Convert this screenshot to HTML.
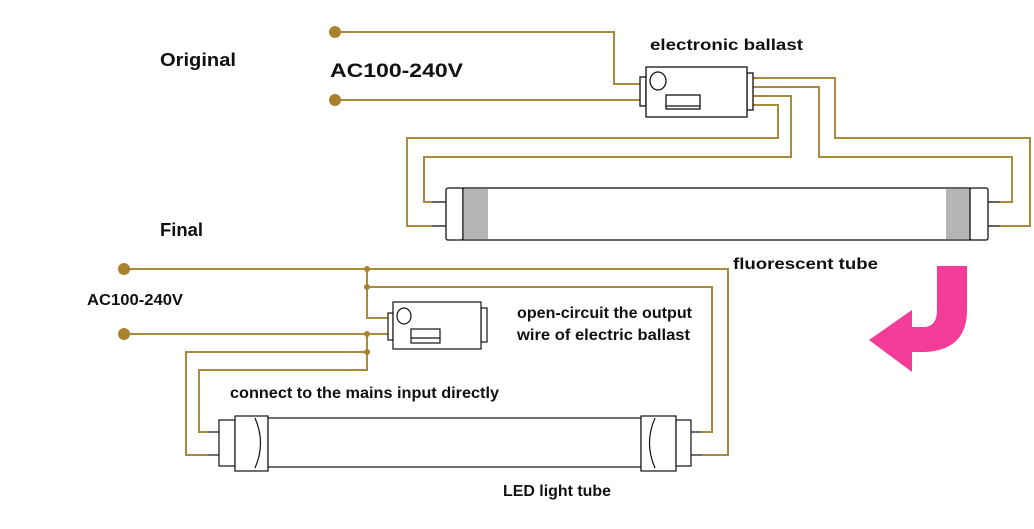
<!DOCTYPE html>
<html><head><meta charset="utf-8"><style>
html,body{margin:0;padding:0;background:#fff;}
svg{display:block;}
text{font-family:"Liberation Sans",sans-serif;font-weight:bold;fill:#111;}
</style></head><body>
<svg width="1034" height="529" viewBox="0 0 1034 529" xmlns="http://www.w3.org/2000/svg">
<g fill="none" stroke="#a88a3c" stroke-width="2">
<polyline points="335,32 614,32 614,84 642,84"/>
<polyline points="335,100 642,100"/>
<polyline points="753,78 835,78 835,138 1030,138 1030,226 1000,226"/>
<polyline points="753,87 819,87 819,157 1012,157 1012,202 1000,202"/>
<polyline points="753,96 791,96 791,157 424,157 424,202 432,202"/>
<polyline points="753,105 778,105 778,138 407,138 407,226 432,226"/>
<polyline points="124,269 728,269 728,455 702,455"/>
<polyline points="367,269 367,318 388,318"/>
<polyline points="367,287 712,287 712,432 702,432"/>
<polyline points="124,334 388,334"/>
<polyline points="367,334 367,370 199,370 199,432 208,432"/>
<polyline points="367,352 186,352 186,455 208,455"/>
</g>
<g fill="#a8822e">
<circle cx="335" cy="32" r="6"/><circle cx="335" cy="100" r="6"/>
<circle cx="124" cy="269" r="6"/><circle cx="124" cy="334" r="6"/>
<circle cx="367" cy="269" r="3"/><circle cx="367" cy="287" r="3"/>
<circle cx="367" cy="334" r="3"/><circle cx="367" cy="352" r="3"/>
</g>
<g stroke="#111" stroke-width="1.3" fill="#fff">
<rect x="640" y="77" width="6" height="29"/>
<rect x="747" y="73" width="6" height="37"/>
<rect x="646" y="67" width="101" height="50"/>
<ellipse cx="658" cy="81" rx="8" ry="9"/>
<rect x="666" y="95" width="34" height="14"/>
<line x1="666" y1="106" x2="700" y2="106"/>
<line x1="432" y1="202" x2="446" y2="202"/><line x1="432" y1="226" x2="446" y2="226"/>
<line x1="988" y1="202" x2="1000" y2="202"/><line x1="988" y1="226" x2="1000" y2="226"/>
<rect x="446" y="188" width="17" height="52" rx="2"/>
<rect x="463" y="188" width="507" height="52"/>
<rect x="970" y="188" width="18" height="52" rx="2"/>
</g>
<rect x="464" y="189" width="24" height="50" fill="#b5b5b5"/>
<rect x="946" y="189" width="23" height="50" fill="#b5b5b5"/>
<g stroke="#111" stroke-width="1.2" fill="#fff">
<rect x="388" y="313" width="5" height="27"/>
<rect x="481" y="308" width="6" height="34"/>
<rect x="393" y="302" width="88" height="47"/>
<ellipse cx="404" cy="316" rx="7" ry="8"/>
<rect x="411" y="329" width="29" height="14"/>
<line x1="411" y1="338" x2="440" y2="338"/>
<line x1="208" y1="432" x2="219" y2="432"/><line x1="208" y1="455" x2="219" y2="455"/>
<line x1="691" y1="432" x2="702" y2="432"/><line x1="691" y1="455" x2="702" y2="455"/>
<rect x="219" y="420" width="16" height="46"/>
<rect x="235" y="416" width="33" height="55"/>
<rect x="268" y="418" width="373" height="49"/>
<rect x="641" y="416" width="35" height="55"/>
<rect x="676" y="420" width="15" height="46"/>
<path d="M255,418 Q266,443 255,468" fill="none"/>
<path d="M655,418 Q644,443 655,468" fill="none"/>
</g>
<path d="M937,266 L967,266 L967,310 Q967,350 925,352 L912,352 L912,372 L869,340 L912,310 L912,327 L925,327 Q937,326 937,310 Z" fill="#f23c97"/>
<text x="160" y="66" font-size="18" textLength="76" lengthAdjust="spacingAndGlyphs">Original</text>
<text x="330" y="77" font-size="19" textLength="133" lengthAdjust="spacingAndGlyphs">AC100-240V</text>
<text x="650" y="50" font-size="16" textLength="153" lengthAdjust="spacingAndGlyphs">electronic ballast</text>
<text x="160" y="236" font-size="18" textLength="43" lengthAdjust="spacingAndGlyphs">Final</text>
<text x="733" y="269" font-size="16" textLength="145" lengthAdjust="spacingAndGlyphs">fluorescent tube</text>
<text x="87" y="305" font-size="16" textLength="96" lengthAdjust="spacingAndGlyphs">AC100-240V</text>
<text x="517" y="318" font-size="16" textLength="175" lengthAdjust="spacingAndGlyphs">open-circuit the output</text>
<text x="517" y="340" font-size="16" textLength="173" lengthAdjust="spacingAndGlyphs">wire of electric ballast</text>
<text x="230" y="398" font-size="16" textLength="269" lengthAdjust="spacingAndGlyphs">connect to the mains input directly</text>
<text x="503" y="496" font-size="16" textLength="108" lengthAdjust="spacingAndGlyphs">LED light tube</text>
</svg>
</body></html>
